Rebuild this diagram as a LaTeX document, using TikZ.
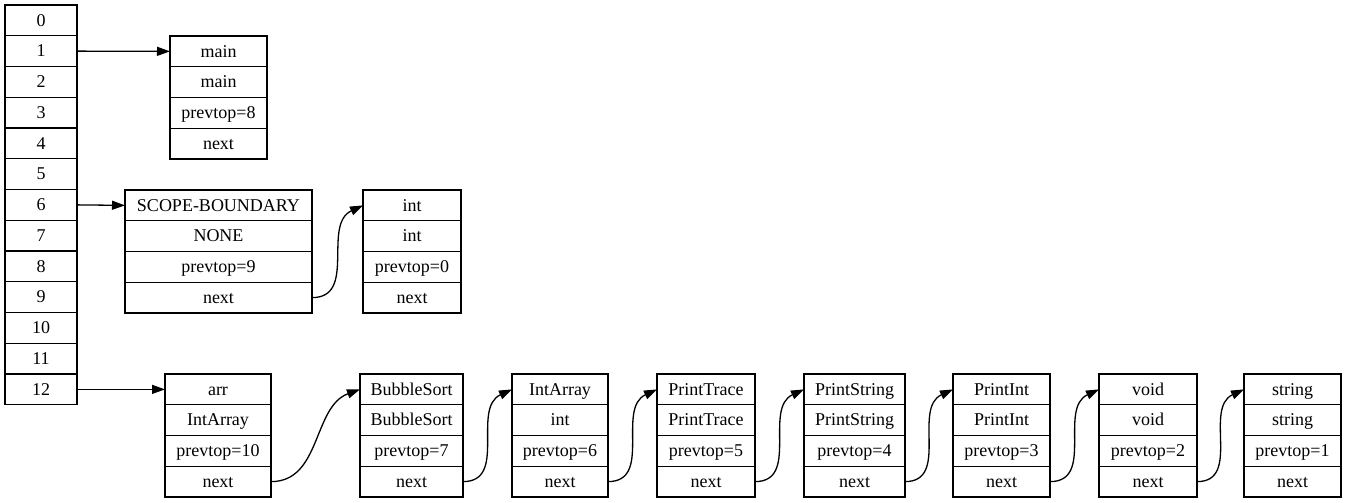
\documentclass[tikz,border=0pt]{standalone}
\usepackage{fontspec}
\setmainfont{Liberation Serif}
\usetikzlibrary{arrows.meta}
\tikzset{
  cell/.style={draw=black, line width=1.3pt, minimum height=30.75pt, inner sep=0pt, outer sep=0pt,
    font=\fontsize{18}{20}\selectfont, text height=13pt, text depth=1.5pt, anchor=center},
  link/.style={line width=1.3pt, -{Triangle[length=13pt,width=9pt]}},
}
\newcommand{\recbox}[8]{%
  \pgfmathsetmacro{\recw}{#3-#2}%
  \pgfmathsetmacro{\reccx}{(#2+#3)/2}%
  \node[cell, minimum width=\recw pt] (#1-1) at (\reccx, #4+15.375) {#5};
  \node[cell, minimum width=\recw pt] (#1-2) at (\reccx, #4+46.125) {#6};
  \node[cell, minimum width=\recw pt] (#1-3) at (\reccx, #4+76.875) {#7};
  \node[cell, minimum width=\recw pt] (#1-4) at (\reccx, #4+107.625) {#8};
}
\begin{document}
\begin{tikzpicture}[x=1pt, y=-1pt]
\useasboundingbox (0,0) rectangle (1347,503);
% array
\foreach \i in {0,...,12} {
  \node[cell, minimum width=72pt] (A\i) at (41, 5+15.375+30.75*\i) {\i};
}
\recbox{main}{170}{267}{36}{main}{main}{prevtop=8}{next}
\recbox{scope}{125}{312}{190}{SCOPE-BOUNDARY}{NONE}{prevtop=9}{next}
\recbox{int}{363}{461}{190}{int}{int}{prevtop=0}{next}
\recbox{arr}{165}{271}{374}{arr}{IntArray}{prevtop=10}{next}
\recbox{bub}{360}{463}{374}{BubbleSort}{BubbleSort}{prevtop=7}{next}
\recbox{ia}{512}{608}{374}{IntArray}{int}{prevtop=6}{next}
\recbox{pt}{657}{755}{374}{PrintTrace}{PrintTrace}{prevtop=5}{next}
\recbox{ps}{804}{905}{374}{PrintString}{PrintString}{prevtop=4}{next}
\recbox{pi}{953}{1050}{374}{PrintInt}{PrintInt}{prevtop=3}{next}
\recbox{vo}{1099}{1197}{374}{void}{void}{prevtop=2}{next}
\recbox{st}{1244}{1341}{374}{string}{string}{prevtop=1}{next}
% links
\draw[link] (A1.east) -- (main-1.west);
\draw[link] (A6.east) -- (scope-1.west);
\draw[link] (A12.east) -- (arr-1.west);
\draw[link] (scope-4.east) to[out=0, in=205, looseness=1.1] (int-1.west);
\draw[link] (arr-4.east) to[out=0, in=200, looseness=1] (bub-1.west);
\draw[link] (bub-4.east) to[out=0, in=205, looseness=1.1] (ia-1.west);
\draw[link] (ia-4.east) to[out=0, in=205, looseness=1.1] (pt-1.west);
\draw[link] (pt-4.east) to[out=0, in=205, looseness=1.1] (ps-1.west);
\draw[link] (ps-4.east) to[out=0, in=205, looseness=1.1] (pi-1.west);
\draw[link] (pi-4.east) to[out=0, in=205, looseness=1.1] (vo-1.west);
\draw[link] (vo-4.east) to[out=0, in=205, looseness=1.1] (st-1.west);
\end{tikzpicture}
\end{document}
